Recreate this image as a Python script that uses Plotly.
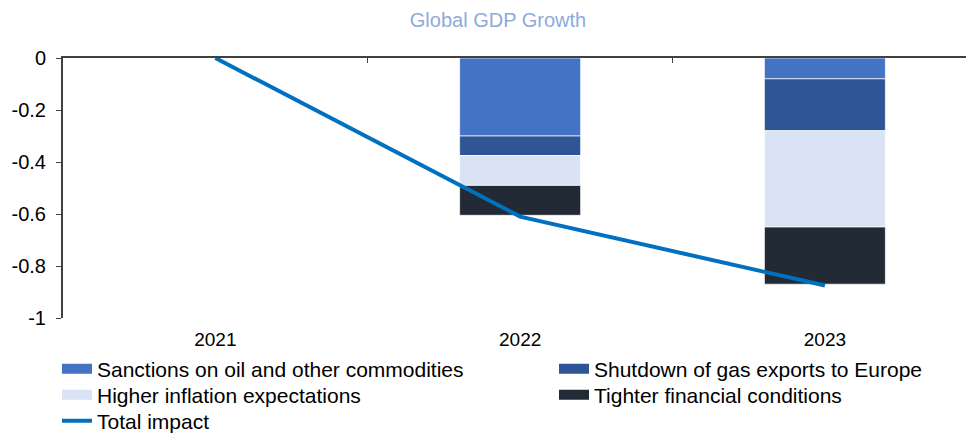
import plotly.graph_objects as go

# Contributions to global GDP growth (percentage points)
years = ["2021", "2022", "2023"]
sanctions = [0.0, -0.30, -0.08]
gas_shutdown = [0.0, -0.075, -0.20]
inflation_expectations = [0.0, -0.115, -0.37]
financial_conditions = [0.0, -0.115, -0.22]
total_impact = [0.0, -0.61, -0.875]

y_ticks = [0, -0.2, -0.4, -0.6, -0.8, -1]
y_tick_labels = ["0", "-0.2", "-0.4", "-0.6", "-0.8", "-1"]

components = [
    ("Sanctions on oil and other commodities", sanctions, "#4472C4", "legend"),
    ("Shutdown of gas exports to Europe", gas_shutdown, "#2F5597", "legend2"),
    ("Higher inflation expectations", inflation_expectations, "#DAE3F3", "legend3"),
    ("Tighter financial conditions", financial_conditions, "#222A35", "legend4"),
]

FONT = "Liberation Sans, Arial, sans-serif"

fig = go.Figure()

for name, values, color, legend in components:
    fig.add_trace(go.Bar(
        x=years, y=values, name=name, legendgroup=name,
        marker=dict(color=color, line=dict(color="rgba(255,255,255,0.7)", width=1)),
        showlegend=False,
    ))
    # wide, flat legend key for each stacked component
    fig.add_trace(go.Scatter(
        x=[None], y=[None], mode="lines", name=name, legendgroup=name,
        line=dict(color=color, width=10), legend=legend,
    ))

fig.add_trace(go.Scatter(
    x=years, y=total_impact, name="Total impact", mode="lines",
    line=dict(color="#0070C0", width=4), xaxis="x2", legend="legend5",
))

x_range = [-0.5, 2.463]


def legend_box(left_px, center_px):
    # one legend entry laid out on a two-column grid below the axis
    return dict(
        orientation="v", xref="container", yref="container",
        x=left_px / 966, y=1 - center_px / 435, xanchor="left", yanchor="middle",
        font=dict(family=FONT, size=21, color="#000000"),
        bgcolor="rgba(0,0,0,0)", borderwidth=0,
    )


fig.update_layout(
    width=966, height=435,
    margin=dict(l=63, r=0, t=58, b=117, autoexpand=False),
    paper_bgcolor="white", plot_bgcolor="white",
    barmode="relative", bargap=0.603,
    font=dict(family=FONT, size=20, color="#000000"),
    title=dict(
        text="Global GDP Growth", x=0.4817, xref="paper", xanchor="center",
        y=1 - 20 / 435, yref="container", yanchor="middle",
        font=dict(family=FONT, size=20, color="#8FAADC"),
    ),
    xaxis=dict(
        type="category", categoryorder="array", categoryarray=years,
        range=x_range, showline=False, ticks="", showgrid=False,
        tickfont=dict(size=19, color="#000000"), ticklabelstandoff=8,
        tickangle=0,
    ),
    xaxis2=dict(
        type="category", categoryorder="array", categoryarray=years,
        range=x_range, overlaying="x", side="top", anchor="y",
        showline=True, linecolor="#404040", linewidth=2,
        ticks="inside", tickson="boundaries", ticklen=5, tickcolor="#404040",
        showticklabels=False, showgrid=False,
    ),
    yaxis=dict(
        range=[-1, 0], tickvals=y_ticks, ticktext=y_tick_labels,
        showline=True, linecolor="#404040", linewidth=2,
        ticks="outside", ticklen=5, tickcolor="#404040",
        showgrid=False, zeroline=False,
        tickfont=dict(size=20, color="#000000"), ticklabelstandoff=6,
    ),
    legend=legend_box(57, 369),
    legend2=legend_box(554, 369),
    legend3=legend_box(57, 395),
    legend4=legend_box(554, 395),
    legend5=legend_box(57, 421),
)

fig.write_html("out.html")
